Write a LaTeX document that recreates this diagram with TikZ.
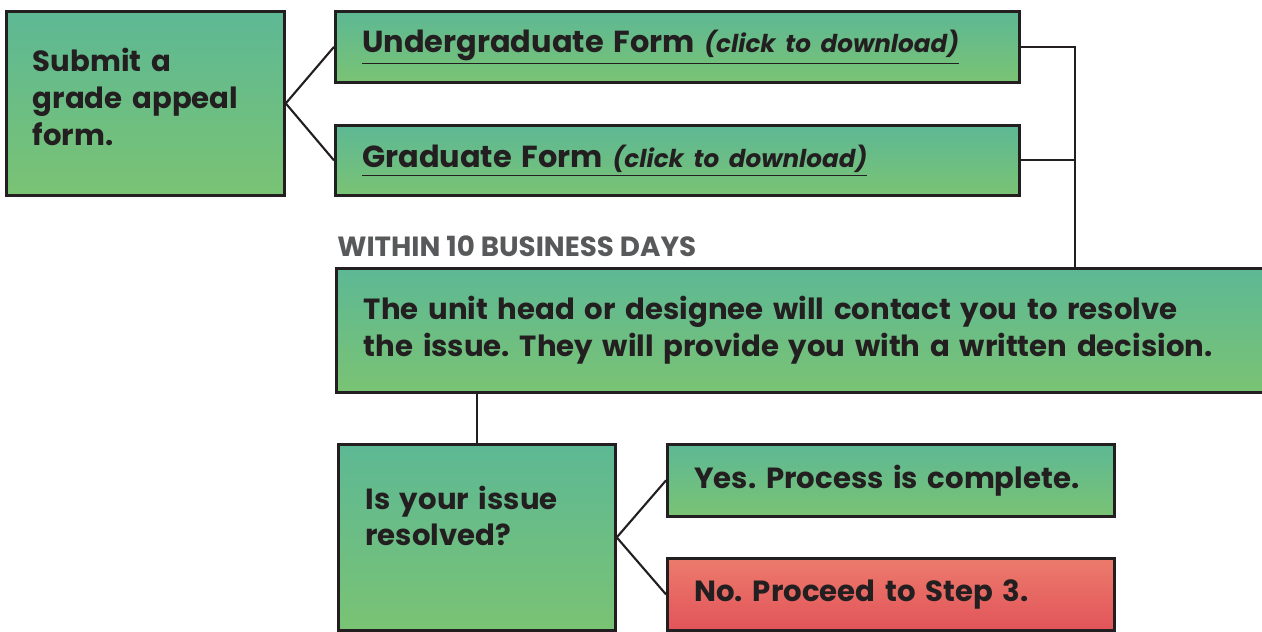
\documentclass[tikz,border=0pt]{standalone}
\usepackage{fontspec}
\setmainfont{Poppins}
\frenchspacing
\usepackage{tikz}
\usetikzlibrary{positioning}

\definecolor{inktext}{HTML}{231F20}
\definecolor{greentop}{HTML}{5DB894}
\definecolor{greenbot}{HTML}{7AC374}
\definecolor{redtop}{HTML}{EC7B6C}
\definecolor{redbot}{HTML}{E2545A}
\definecolor{daysgray}{HTML}{58595B}

\newcommand{\formlink}[1]{\underline{{\fontsize{17.3}{21}\selectfont #1} {\fontsize{14}{16}\selectfont\itshape(click to download)}}}

\begin{document}
\begin{tikzpicture}[x=0.02cm,y=-0.02cm,
    stepbox/.style={draw=inktext, line width=1.6pt, top color=greentop, bottom color=greenbot,
        text=inktext, font=\fontsize{16.6}{21}\selectfont\bfseries, align=left,
        inner xsep=0.52cm, inner ysep=0pt, anchor=north west},
    nobox/.style={stepbox, top color=redtop, bottom color=redbot},
    link/.style={line width=1.2pt, draw=inktext}]
    \useasboundingbox (0,0) rectangle (1262,632);
    % first step: the form
    \node [stepbox, minimum width=5.56cm, minimum height=3.68cm, text width=4.5cm, text depth=1.75cm] (submit) at (5,10) {Submit a\\grade appeal\\form.};
    \node [stepbox, minimum width=13.68cm, minimum height=1.42cm, text width=12.6cm] (under) at (334,10) {\formlink{Undergraduate Form}};
    \node [stepbox, minimum width=13.68cm, minimum height=1.40cm, text width=12.6cm] (grad) at (334,124) {\formlink{Graduate Form}};
    \draw [link] (submit.east) -- (under.west);
    \draw [link] (submit.east) -- (grad.west);
    % unit head
    \node [anchor=west, text=daysgray, font=\fontsize{15.8}{18}\selectfont\bfseries, inner sep=0pt] (days) at (337,246) {WITHIN 10 BUSINESS DAYS};
    \node [stepbox, minimum width=18.8cm, minimum height=2.48cm, text width=17.7cm] (unit) at (335,267) {The unit head or designee will contact you to resolve\\the issue. They will provide you with a written decision.};
    \coordinate (bus) at ([xshift=14.8cm]unit.north west);
    \draw [link] (under.east) -| (bus);
    \draw [link] (grad.east) -- (grad.east -| bus);
    % resolved?
    \node [stepbox, minimum width=5.54cm, minimum height=3.72cm, text width=4.46cm, text depth=1.6cm] (resolved) at (337,443) {Is your issue\\resolved?};
    \node [stepbox, minimum width=8.94cm, minimum height=1.44cm, text width=7.86cm] (yes) at (666,443) {Yes. Process is complete.};
    \node [nobox, minimum width=8.94cm, minimum height=1.44cm, text width=7.86cm] (no) at (666,557) {No. Proceed to Step 3.};
    \draw [link] (resolved.north) -- (resolved.north |- unit.south);
    \draw [link] (resolved.east) -- (yes.west);
    \draw [link] (resolved.east) -- (no.west);
\end{tikzpicture}
\end{document}
